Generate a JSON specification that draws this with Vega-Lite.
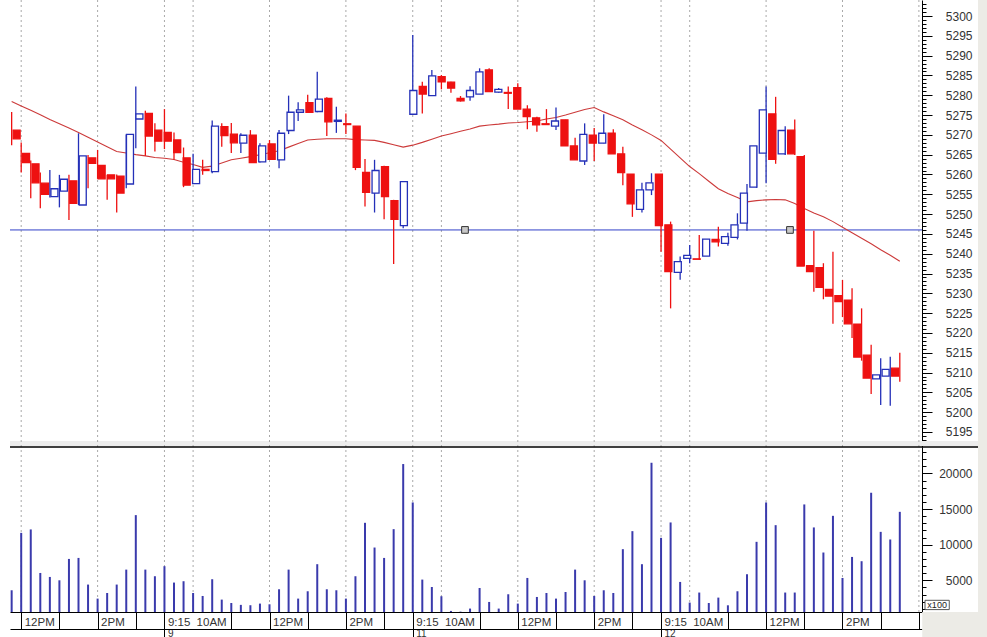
{
  "$schema": "https://vega.github.io/schema/vega-lite/v6.json",
  "background": "white",
  "autosize": {"type": "none"},
  "padding": {"left": 10, "top": 0, "right": 65, "bottom": 25},
  "width": 912,
  "height": 612,
  "config": {
    "view": {"stroke": null},
    "axis": {"labelFont": "Liberation Sans", "labelFontSize": 12, "labelColor": "#333333", "domainColor": "#000000", "tickColor": "#000000", "grid": false, "title": null}
  },
  "datasets": {
    "candles": [
      {"i":0,"o":5271.2,"h":5275.8,"l":5267.4,"c":5269.0,"ma":5278.4,"v":3600},
      {"i":1,"o":5265.3,"h":5268.1,"l":5260.5,"c":5263.0,"ma":5277.3,"v":11660},
      {"i":2,"o":5262.7,"h":5263.5,"l":5254.0,"c":5257.9,"ma":5276.2,"v":12140},
      {"i":3,"o":5257.8,"h":5260.5,"l":5251.5,"c":5255.0,"ma":5275.1,"v":6030},
      {"i":4,"o":5254.4,"h":5261.1,"l":5254.2,"c":5256.4,"ma":5273.9,"v":5470},
      {"i":5,"o":5255.8,"h":5259.9,"l":5251.7,"c":5258.8,"ma":5272.8,"v":5000},
      {"i":6,"o":5258.4,"h":5259.9,"l":5248.5,"c":5252.7,"ma":5271.7,"v":8000},
      {"i":7,"o":5252.3,"h":5270.4,"l":5252.3,"c":5264.7,"ma":5270.6,"v":8140},
      {"i":8,"o":5264.2,"h":5264.9,"l":5256.5,"c":5262.8,"ma":5269.4,"v":4400},
      {"i":9,"o":5262.3,"h":5266.2,"l":5258.9,"c":5258.9,"ma":5268.2,"v":2430},
      {"i":10,"o":5259.9,"h":5259.9,"l":5253.6,"c":5258.9,"ma":5267.0,"v":3220},
      {"i":11,"o":5259.6,"h":5260.0,"l":5250.4,"c":5255.3,"ma":5265.8,"v":4400},
      {"i":12,"o":5257.6,"h":5270.1,"l":5256.5,"c":5270.1,"ma":5265.4,"v":6500},
      {"i":13,"o":5274.0,"h":5282.2,"l":5266.6,"c":5275.3,"ma":5265.0,"v":14150},
      {"i":14,"o":5275.4,"h":5276.1,"l":5264.7,"c":5269.7,"ma":5264.7,"v":6500},
      {"i":15,"o":5271.2,"h":5272.9,"l":5265.8,"c":5268.4,"ma":5264.3,"v":5570},
      {"i":16,"o":5270.6,"h":5276.5,"l":5266.4,"c":5268.4,"ma":5264.1,"v":6980},
      {"i":17,"o":5268.7,"h":5270.6,"l":5263.7,"c":5265.5,"ma":5263.8,"v":4680},
      {"i":18,"o":5264.2,"h":5266.8,"l":5256.8,"c":5257.3,"ma":5263.1,"v":4870},
      {"i":19,"o":5257.7,"h":5265.2,"l":5257.7,"c":5261.3,"ma":5262.5,"v":3220},
      {"i":20,"o":5261.3,"h":5263.7,"l":5259.9,"c":5261.0,"ma":5261.8,"v":2800},
      {"i":21,"o":5260.7,"h":5273.6,"l":5260.3,"c":5272.2,"ma":5262.1,"v":5150},
      {"i":22,"o":5272.1,"h":5272.9,"l":5267.0,"c":5269.8,"ma":5262.9,"v":2290},
      {"i":23,"o":5270.2,"h":5273.0,"l":5265.4,"c":5268.0,"ma":5263.7,"v":1810},
      {"i":24,"o":5267.9,"h":5270.4,"l":5265.4,"c":5269.9,"ma":5264.1,"v":1550},
      {"i":25,"o":5269.9,"h":5271.2,"l":5263.0,"c":5263.0,"ma":5264.5,"v":1500},
      {"i":26,"o":5263.2,"h":5267.9,"l":5263.0,"c":5267.2,"ma":5265.0,"v":1730},
      {"i":27,"o":5267.7,"h":5268.7,"l":5263.8,"c":5263.8,"ma":5265.5,"v":1630},
      {"i":28,"o":5263.7,"h":5271.2,"l":5261.6,"c":5270.4,"ma":5266.0,"v":3740},
      {"i":29,"o":5271.1,"h":5279.9,"l":5270.2,"c":5275.7,"ma":5266.9,"v":6500},
      {"i":30,"o":5275.7,"h":5278.2,"l":5273.5,"c":5276.3,"ma":5267.8,"v":2430},
      {"i":31,"o":5278.1,"h":5280.1,"l":5275.7,"c":5275.7,"ma":5268.7,"v":3460},
      {"i":32,"o":5275.9,"h":5285.9,"l":5275.7,"c":5279.0,"ma":5268.9,"v":7260},
      {"i":33,"o":5279.2,"h":5279.5,"l":5269.7,"c":5273.3,"ma":5269.0,"v":3740},
      {"i":34,"o":5273.4,"h":5277.1,"l":5270.5,"c":5273.7,"ma":5269.0,"v":3600},
      {"i":35,"o":5272.8,"h":5275.4,"l":5270.2,"c":5272.6,"ma":5269.0,"v":2430},
      {"i":36,"o":5272.2,"h":5272.2,"l":5261.1,"c":5261.8,"ma":5268.8,"v":5570},
      {"i":37,"o":5260.5,"h":5263.9,"l":5251.9,"c":5255.5,"ma":5268.7,"v":13070},
      {"i":38,"o":5255.3,"h":5263.7,"l":5250.4,"c":5261.0,"ma":5268.6,"v":9600},
      {"i":39,"o":5262.0,"h":5262.2,"l":5248.7,"c":5254.4,"ma":5268.1,"v":8140},
      {"i":40,"o":5253.4,"h":5253.6,"l":5237.4,"c":5248.7,"ma":5267.5,"v":12180},
      {"i":41,"o":5247.1,"h":5258.2,"l":5246.4,"c":5258.2,"ma":5266.9,"v":21320},
      {"i":42,"o":5275.2,"h":5295.2,"l":5275.2,"c":5281.2,"ma":5267.4,"v":15930},
      {"i":43,"o":5282.2,"h":5283.4,"l":5275.4,"c":5280.3,"ma":5268.1,"v":5100},
      {"i":44,"o":5279.9,"h":5286.4,"l":5279.8,"c":5284.9,"ma":5268.9,"v":4060},
      {"i":45,"o":5284.7,"h":5285.1,"l":5281.5,"c":5283.4,"ma":5269.7,"v":2760},
      {"i":46,"o":5283.3,"h":5283.4,"l":5280.6,"c":5281.8,"ma":5270.3,"v":700},
      {"i":47,"o":5279.2,"h":5279.8,"l":5278.4,"c":5278.6,"ma":5270.9,"v":600},
      {"i":48,"o":5279.6,"h":5282.3,"l":5278.6,"c":5281.2,"ma":5271.5,"v":1030},
      {"i":49,"o":5280.3,"h":5286.8,"l":5280.3,"c":5285.9,"ma":5272.2,"v":3920},
      {"i":50,"o":5286.4,"h":5286.8,"l":5280.9,"c":5280.9,"ma":5272.5,"v":1960},
      {"i":51,"o":5280.8,"h":5281.8,"l":5280.6,"c":5281.5,"ma":5272.7,"v":1030},
      {"i":52,"o":5280.7,"h":5282.2,"l":5276.5,"c":5280.5,"ma":5273.0,"v":3040},
      {"i":53,"o":5281.9,"h":5283.0,"l":5276.5,"c":5276.5,"ma":5273.1,"v":1730},
      {"i":54,"o":5276.5,"h":5277.5,"l":5271.4,"c":5274.6,"ma":5273.3,"v":5330},
      {"i":55,"o":5274.3,"h":5274.6,"l":5270.8,"c":5272.5,"ma":5273.5,"v":2660},
      {"i":56,"o":5272.8,"h":5276.5,"l":5272.5,"c":5272.6,"ma":5274.0,"v":3220},
      {"i":57,"o":5272.2,"h":5276.9,"l":5271.2,"c":5273.5,"ma":5274.4,"v":2430},
      {"i":58,"o":5273.8,"h":5273.8,"l":5267.2,"c":5267.2,"ma":5275.0,"v":3360},
      {"i":59,"o":5267.2,"h":5269.3,"l":5263.7,"c":5263.7,"ma":5275.7,"v":6500},
      {"i":60,"o":5263.4,"h":5272.9,"l":5262.4,"c":5270.1,"ma":5276.4,"v":5000},
      {"i":61,"o":5269.9,"h":5271.7,"l":5263.4,"c":5267.9,"ma":5276.9,"v":2800},
      {"i":62,"o":5267.9,"h":5275.2,"l":5267.9,"c":5270.4,"ma":5275.8,"v":3600},
      {"i":63,"o":5270.4,"h":5271.4,"l":5265.2,"c":5265.2,"ma":5274.8,"v":3220},
      {"i":64,"o":5265.2,"h":5267.0,"l":5257.3,"c":5260.5,"ma":5273.8,"v":9370},
      {"i":65,"o":5260.1,"h":5260.1,"l":5249.3,"c":5252.6,"ma":5272.5,"v":11900},
      {"i":66,"o":5251.2,"h":5257.9,"l":5250.4,"c":5256.1,"ma":5271.3,"v":7260},
      {"i":67,"o":5256.1,"h":5260.3,"l":5254.8,"c":5257.9,"ma":5270.0,"v":21500},
      {"i":68,"o":5260.1,"h":5260.1,"l":5240.5,"c":5247.1,"ma":5268.6,"v":10960},
      {"i":69,"o":5247.3,"h":5248.1,"l":5226.2,"c":5235.5,"ma":5266.4,"v":13120},
      {"i":70,"o":5235.3,"h":5239.3,"l":5233.4,"c":5238.0,"ma":5264.2,"v":4770},
      {"i":71,"o":5238.8,"h":5242.2,"l":5237.6,"c":5239.6,"ma":5262.0,"v":1870},
      {"i":72,"o":5238.7,"h":5244.7,"l":5238.5,"c":5238.6,"ma":5260.2,"v":3280},
      {"i":73,"o":5239.4,"h":5243.7,"l":5239.4,"c":5243.7,"ma":5258.3,"v":1810},
      {"i":74,"o":5243.6,"h":5246.8,"l":5241.8,"c":5243.0,"ma":5256.4,"v":2570},
      {"i":75,"o":5242.6,"h":5245.3,"l":5242.0,"c":5244.3,"ma":5255.2,"v":1490},
      {"i":76,"o":5244.1,"h":5250.2,"l":5243.6,"c":5247.3,"ma":5254.2,"v":3460},
      {"i":77,"o":5247.7,"h":5257.6,"l":5245.8,"c":5255.3,"ma":5253.1,"v":5850},
      {"i":78,"o":5256.8,"h":5267.2,"l":5256.6,"c":5267.2,"ma":5253.4,"v":10400},
      {"i":79,"o":5265.4,"h":5282.2,"l":5257.8,"c":5276.3,"ma":5253.6,"v":15930},
      {"i":80,"o":5275.3,"h":5279.6,"l":5262.7,"c":5263.8,"ma":5253.7,"v":12740},
      {"i":81,"o":5265.2,"h":5272.2,"l":5264.9,"c":5271.1,"ma":5253.6,"v":3280},
      {"i":82,"o":5271.2,"h":5273.9,"l":5264.9,"c":5265.2,"ma":5252.7,"v":3280},
      {"i":83,"o":5264.5,"h":5264.9,"l":5236.9,"c":5236.9,"ma":5251.4,"v":15650},
      {"i":84,"o":5237.0,"h":5245.8,"l":5230.4,"c":5235.5,"ma":5250.3,"v":12420},
      {"i":85,"o":5236.5,"h":5237.6,"l":5228.5,"c":5231.5,"ma":5249.3,"v":8900},
      {"i":86,"o":5231.0,"h":5240.5,"l":5222.3,"c":5229.3,"ma":5248.1,"v":14050},
      {"i":87,"o":5229.4,"h":5233.4,"l":5224.0,"c":5227.9,"ma":5246.7,"v":5330},
      {"i":88,"o":5228.3,"h":5231.3,"l":5218.7,"c":5222.3,"ma":5245.3,"v":8280},
      {"i":89,"o":5222.2,"h":5226.2,"l":5213.0,"c":5213.9,"ma":5243.9,"v":7680},
      {"i":90,"o":5214.4,"h":5217.0,"l":5204.6,"c":5208.6,"ma":5242.5,"v":17290},
      {"i":91,"o":5208.4,"h":5213.6,"l":5201.8,"c":5209.4,"ma":5241.0,"v":11800},
      {"i":92,"o":5209.1,"h":5214.0,"l":5201.6,"c":5210.8,"ma":5239.6,"v":10730},
      {"i":93,"o":5211.1,"h":5215.0,"l":5207.7,"c":5209.1,"ma":5238.1,"v":14610}
    ],
    "grid": [{"i":1},{"i":9},{"i":16},{"i":19},{"i":27},{"i":35},{"i":42},{"i":45},{"i":53},{"i":61},{"i":68},{"i":71},{"i":79},{"i":87},{"i":95}],
    "days": [{"i":16,"d":"9"},{"i":42,"d":"11"},{"i":68,"d":"12"}],
    "anchors": [{"i":47.47,"p":5246},{"i":81.5,"p":5246}],
    "level": [{"p":5246}]
  },
  "layer": [
    {
      "data": {"values": [{"a": 101.19, "b": 103, "lo": -2961, "hi": 86467}, {"a": 95.35, "b": 103, "lo": -2961, "hi": 549}]},
      "mark": {"type": "rect", "fill": "#ecebe6", "strokeWidth": 0},
      "encoding": {
        "x": {"field": "a", "type": "quantitative", "scale": {"domain": [-0.173, 95.325], "nice": false, "zero": false}, "axis": null},
        "x2": {"field": "b"},
        "y": {"field": "hi", "type": "quantitative", "scale": {"domain": [549, 23713], "range": [612, 447], "nice": false, "zero": false}, "axis": null},
        "y2": {"field": "lo"}
      }
    },
    {
      "data": {"values": [{"a": -0.173, "b": 101.19, "lo": 5191.46, "hi": 5192.72}]},
      "mark": {"type": "rect", "fill": "#ededed", "strokeWidth": 0},
      "encoding": {
        "x": {"field": "a", "type": "quantitative", "scale": {"domain": [-0.173, 95.325], "nice": false, "zero": false}, "axis": null},
        "x2": {"field": "b"},
        "y": {"field": "hi", "type": "quantitative", "scale": {"domain": [5191.21, 5304.04], "range": [447, 0], "nice": false, "zero": false}, "axis": null},
        "y2": {"field": "lo"}
      }
    },
    {
      "data": {"name": "grid"},
      "mark": {"type": "rule", "color": "#a9a9a9", "strokeDash": [2, 3], "strokeWidth": 1},
      "encoding": {
        "x": {"field": "i", "type": "quantitative", "scale": {"domain": [-0.173, 95.325], "nice": false, "zero": false},
          "axis": {"orient": "bottom", "values": [1,9,16,19,27,35,42,45,53,61,68,71,79,87], "ticks": false, "domain": false, "labelAlign": "left", "labelBaseline": "middle", "labelPadding": 10, "labelOffset": 3, "labelFontSize": 11.5, "labelOverlap": false, "labelBound": false, "labelFlush": false,
            "labelExpr": "((datum.value + 10) % 26) == 0 ? '9:15' : ((datum.value + 10) % 26) == 3 ? '10AM' : ((datum.value + 10) % 26) == 11 ? '12PM' : ((datum.value + 10) % 26) == 19 ? '2PM' : ''"}}
      }
    },
    {
      "data": {"name": "level"},
      "mark": {"type": "rule", "color": "#3040c8", "strokeWidth": 1},
      "encoding": {
        "y": {"field": "p", "type": "quantitative", "scale": {"domain": [5191.21, 5304.04], "range": [447, 0], "nice": false, "zero": false},
          "axis": {"orient": "right", "format": "d", "values": [5195,5200,5205,5210,5215,5220,5225,5230,5235,5240,5245,5250,5255,5260,5265,5270,5275,5280,5285,5290,5295,5300], "tickSize": 10, "labelAlign": "right", "labelPadding": 40, "labelBaseline": "middle", "domain": true}}
      }
    },
    {
      "data": {"name": "candles"},
      "mark": {"type": "line", "color": "#cc3a3a", "strokeWidth": 1.1, "clip": true},
      "encoding": {
        "x": {"field": "i", "type": "quantitative", "scale": {"domain": [-0.173, 95.325], "nice": false, "zero": false}, "axis": null},
        "y": {"field": "ma", "type": "quantitative", "scale": {"domain": [5191.21, 5304.04], "range": [447, 0], "nice": false, "zero": false},
          "axis": {"orient": "right", "values": [5192,5193,5194,5195,5196,5197,5198,5199,5200,5201,5202,5203,5204,5205,5206,5207,5208,5209,5210,5211,5212,5213,5214,5215,5216,5217,5218,5219,5220,5221,5222,5223,5224,5225,5226,5227,5228,5229,5230,5231,5232,5233,5234,5235,5236,5237,5238,5239,5240,5241,5242,5243,5244,5245,5246,5247,5248,5249,5250,5251,5252,5253,5254,5255,5256,5257,5258,5259,5260,5261,5262,5263,5264,5265,5266,5267,5268,5269,5270,5271,5272,5273,5274,5275,5276,5277,5278,5279,5280,5281,5282,5283,5284,5285,5286,5287,5288,5289,5290,5291,5292,5293,5294,5295,5296,5297,5298,5299,5300,5301,5302,5303], "tickSize": 4, "labels": false, "domain": false}}
      }
    },
    {
      "data": {"name": "candles"},
      "mark": {"type": "rule", "strokeWidth": 1.3, "clip": true},
      "encoding": {
        "x": {"field": "i", "type": "quantitative", "scale": {"domain": [-0.173, 95.325], "nice": false, "zero": false}, "axis": null},
        "y": {"field": "l", "type": "quantitative", "scale": {"domain": [5191.21, 5304.04], "range": [447, 0], "nice": false, "zero": false}, "axis": null},
        "y2": {"field": "h"},
        "color": {"condition": {"test": "datum.c >= datum.o", "value": "#2430b8"}, "value": "#ee1111"}
      }
    },
    {
      "data": {"name": "candles"},
      "mark": {"type": "bar", "size": 7, "strokeWidth": 1.3, "clip": true},
      "encoding": {
        "x": {"field": "i", "type": "quantitative", "scale": {"domain": [-0.173, 95.325], "nice": false, "zero": false}, "axis": null},
        "y": {"field": "o", "type": "quantitative", "scale": {"domain": [5191.21, 5304.04], "range": [447, 0], "nice": false, "zero": false}, "axis": null},
        "y2": {"field": "c"},
        "fill": {"condition": {"test": "datum.c >= datum.o", "value": "#ffffff"}, "value": "#ee1111"},
        "stroke": {"condition": {"test": "datum.c >= datum.o", "value": "#2430b8"}, "value": "#ee1111"}
      }
    },
    {
      "data": {"name": "anchors"},
      "mark": {"type": "point", "shape": "square", "size": 45, "filled": true, "fill": "#c8c8c8", "stroke": "#333333", "strokeWidth": 1, "opacity": 1},
      "encoding": {
        "x": {"field": "i", "type": "quantitative", "scale": {"domain": [-0.173, 95.325], "nice": false, "zero": false}, "axis": null},
        "y": {"field": "p", "type": "quantitative", "scale": {"domain": [5191.21, 5304.04], "range": [447, 0], "nice": false, "zero": false}, "axis": null}
      }
    },
    {
      "data": {"values": [{"a": -0.173, "b": 101.19, "p": 5191.21}]},
      "mark": {"type": "rule", "color": "#000000", "strokeWidth": 1.5},
      "encoding": {
        "x": {"field": "a", "type": "quantitative", "scale": {"domain": [-0.173, 95.325], "nice": false, "zero": false}, "axis": null},
        "x2": {"field": "b"},
        "y": {"field": "p", "type": "quantitative", "scale": {"domain": [5191.21, 5304.04], "range": [447, 0], "nice": false, "zero": false}, "axis": null}
      }
    },
    {
      "data": {"name": "candles"},
      "mark": {"type": "rule", "color": "#3a3aac", "strokeWidth": 2, "clip": true},
      "encoding": {
        "x": {"field": "i", "type": "quantitative", "scale": {"domain": [-0.173, 95.325], "nice": false, "zero": false},
          "axis": {"orient": "bottom", "values": [1,5,9,13,16,23,27,31,35,39,42,49,53,57,61,65,68,75,79,83,87,91,95], "tickSize": 17, "labels": false, "domain": true}},
        "y": {"field": "v", "type": "quantitative", "scale": {"domain": [549, 23713], "range": [612, 447], "nice": false, "zero": false},
          "axis": {"orient": "right", "format": "d", "values": [5000, 10000, 15000, 20000], "tickSize": 10, "labelAlign": "right", "labelPadding": 40, "labelBaseline": "middle", "domain": true}},
        "y2": {"datum": 549}
      }
    },
    {
      "data": {"name": "candles"},
      "mark": {"type": "rule", "opacity": 0},
      "encoding": {
        "x": {"field": "i", "type": "quantitative", "scale": {"domain": [-0.173, 95.325], "nice": false, "zero": false}, "axis": null},
        "y": {"field": "v", "type": "quantitative", "scale": {"domain": [549, 23713], "range": [612, 447], "nice": false, "zero": false},
          "axis": {"orient": "right", "values": [1000,2000,3000,4000,5000,6000,7000,8000,9000,10000,11000,12000,13000,14000,15000,16000,17000,18000,19000,20000,21000,22000,23000], "tickSize": 4, "labels": false, "domain": false}}
      }
    },
    {
      "data": {"name": "days"},
      "mark": {"type": "rule", "opacity": 0},
      "encoding": {
        "x": {"field": "i", "type": "quantitative", "scale": {"domain": [-0.173, 95.325], "nice": false, "zero": false},
          "axis": {"orient": "bottom", "offset": 17, "values": [16, 42, 68], "tickSize": 8, "labelAlign": "left", "labelBaseline": "alphabetic", "labelPadding": -1, "labelOffset": 3, "labelFontSize": 10, "domain": true,
            "labelExpr": "datum.value == 16 ? '9' : datum.value == 42 ? '11' : '12'"}}
      }
    },
    {
      "data": {"values": [{"a": 95.64, "b": 98.18, "lo": 886, "hi": 2190}]},
      "mark": {"type": "rect", "fill": "#ffffff", "stroke": "#555555", "strokeWidth": 1},
      "encoding": {
        "x": {"field": "a", "type": "quantitative", "scale": {"domain": [-0.173, 95.325], "nice": false, "zero": false}, "axis": null},
        "x2": {"field": "b"},
        "y": {"field": "hi", "type": "quantitative", "scale": {"domain": [549, 23713], "range": [612, 447], "nice": false, "zero": false}, "axis": null},
        "y2": {"field": "lo"}
      }
    },
    {
      "data": {"values": [{"a": 96.91, "v": 1530, "t": "x100"}]},
      "mark": {"type": "text", "font": "Liberation Sans", "fontSize": 9, "color": "#222222", "align": "center", "baseline": "middle"},
      "encoding": {
        "x": {"field": "a", "type": "quantitative", "scale": {"domain": [-0.173, 95.325], "nice": false, "zero": false}, "axis": null},
        "y": {"field": "v", "type": "quantitative", "scale": {"domain": [549, 23713], "range": [612, 447], "nice": false, "zero": false}, "axis": null},
        "text": {"field": "t"}
      }
    }
  ],
  "resolve": {"scale": {"x": "independent", "y": "independent"}, "axis": {"x": "independent", "y": "independent"}}
}
